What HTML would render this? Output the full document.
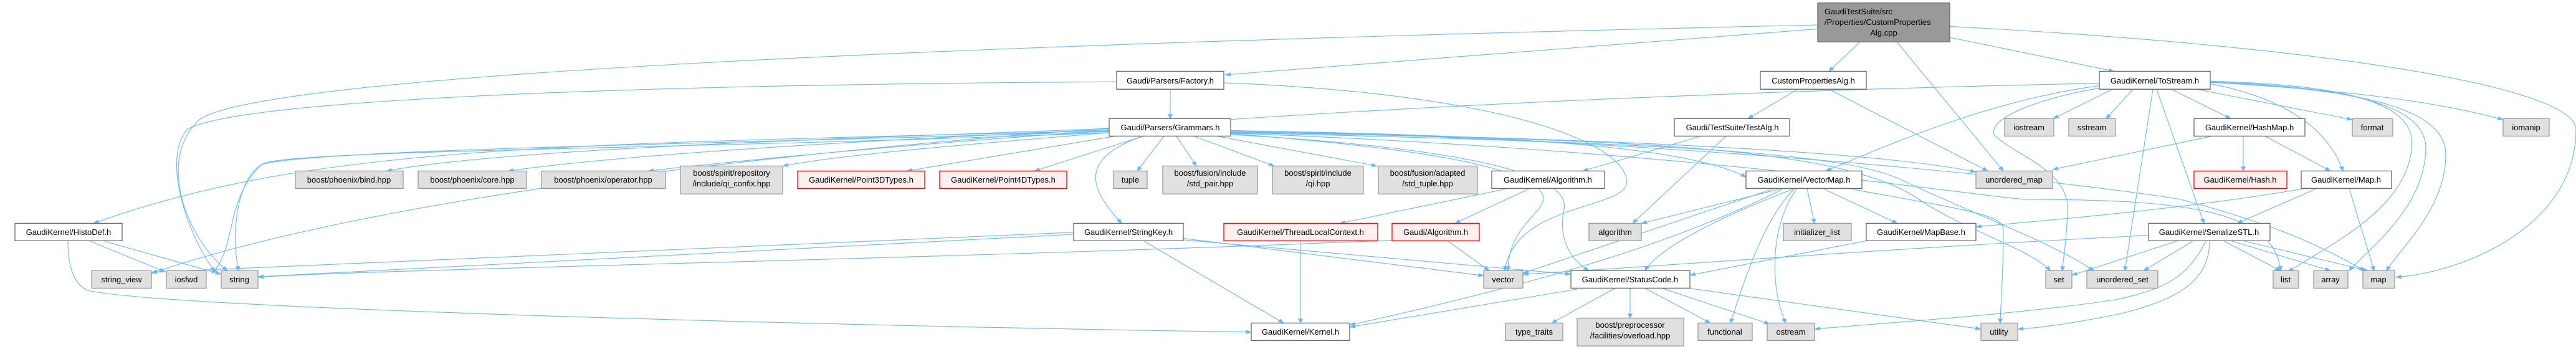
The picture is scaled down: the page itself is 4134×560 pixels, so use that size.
<!DOCTYPE html>
<html><head><meta charset="utf-8"><style>
html,body{margin:0;padding:0;background:#fff;overflow:hidden;}
svg{display:block;}
text{font-family:"Liberation Sans",sans-serif;font-size:13px;fill:#000;}
.w{fill:#fff;stroke:#666;stroke-width:1.3}
.g{fill:#e0e0e0;stroke:#999;stroke-width:1.3}
.r{fill:#fff0f0;stroke:#f00;stroke-width:1.3}
.m{fill:#999;stroke:#666;stroke-width:1.3}
.e{fill:none;stroke:#63b8ff;stroke-width:1.1;marker-end:url(#a)}
rect,path{vector-effect:non-scaling-stroke}
</style></head><body>
<svg width="4134" height="560" viewBox="0 0 4134 560" xmlns="http://www.w3.org/2000/svg">
<defs><marker id="a" viewBox="0 0 10 10" refX="9" refY="5" markerWidth="10" markerHeight="10" markerUnits="userSpaceOnUse" orient="auto"><path d="M0,1 L10,5 L0,9 z" fill="#63b8ff"/></marker></defs>
<g transform="scale(1,0.8)">
<path class="e" d="M2917,50 C1500,90 420,150 320,240 C250,320 300,480 365,543"/>
<path class="e" d="M2917,58 L1966,150"/>
<path class="e" d="M2985,84 L2935,143"/>
<path class="e" d="M3044,84 L3215,343"/>
<path class="e" d="M3129,75 L3393,143"/>
<path class="e" d="M3129,53 C3700,90 4134,170 4134,260 C4134,450 3960,545 3845,556"/>
<path class="e" d="M1878,179 L1878,238"/>
<path class="e" d="M1964,166 C2450,190 2620,300 2610,370 C2600,420 2430,410 2415,543"/>
<path class="e" d="M1792,164 C1000,170 380,200 300,260 C260,320 300,470 345,545"/>
<path class="e" d="M2885,179 L2805,238"/>
<path class="e" d="M2935,179 L3190,343"/>
<path class="e" d="M2730,273 L2540,343"/>
<path class="e" d="M2770,273 L2620,448"/>
<path class="e" d="M2420,378 L2150,448"/>
<path class="e" d="M2455,378 L2335,448"/>
<path class="e" d="M2323,483 L2390,543"/>
<path class="e" d="M2234,482 C1500,520 600,540 414,556"/>
<path class="e" d="M2087,483 L2087,648"/>
<path class="e" d="M1835,483 L2060,648"/>
<path class="e" d="M1899,478 L2381,553"/>
<path class="e" d="M1899,481 L2521,550"/>
<path class="e" d="M1723,470 L414,555"/>
<path class="e" d="M1723,466 L243,546"/>
<path class="e" d="M109,483 C109,540 120,570 140,582 C260,620 1400,655 2008,666"/>
<path class="e" d="M143,483 L265,545"/>
<path class="e" d="M165,483 L355,550"/>
<path class="e" d="M2592,578 L2490,648"/>
<path class="e" d="M2616,578 L2616,638"/>
<path class="e" d="M2640,578 L2745,648"/>
<path class="e" d="M2667,578 L2840,650"/>
<path class="e" d="M2710,578 L3179,660"/>
<path class="e" d="M2531,580 L2166,656"/>
<path class="e" d="M2847,378 L2444,548"/>
<path class="e" d="M2860,378 L2634,448"/>
<path class="e" d="M2880,378 C2750,440 2660,500 2640,543"/>
<path class="e" d="M2900,378 L2912,448"/>
<path class="e" d="M2925,378 L3045,448"/>
<path class="e" d="M2884,378 C2840,450 2840,580 2866,648"/>
<path class="e" d="M2880,378 C2830,440 2800,560 2777,648"/>
<path class="e" d="M2966,378 C3150,420 3215,430 3215,460 C3215,560 3210,620 3210,648"/>
<path class="e" d="M2860,380 C2700,480 2500,560 2166,652"/>
<path class="e" d="M2995,483 L2712,552"/>
<path class="e" d="M3390,179 L3295,238"/>
<path class="e" d="M3423,179 L3380,238"/>
<path class="e" d="M3485,179 L3580,238"/>
<path class="e" d="M3525,179 L3775,240"/>
<path class="e" d="M3546,165 C3750,180 3900,200 4017,240"/>
<path class="e" d="M3547,168 C3680,200 3740,270 3760,343"/>
<path class="e" d="M3461,179 L3537,448"/>
<path class="e" d="M3455,179 L3410,543"/>
<path class="e" d="M3547,163 C3800,170 3880,220 3870,300 C3860,420 3740,490 3672,545"/>
<path class="e" d="M3547,164 C3820,175 3895,230 3893,300 C3890,420 3800,500 3770,543"/>
<path class="e" d="M3547,165 C3850,180 3925,240 3925,310 C3925,420 3850,500 3830,543"/>
<path class="e" d="M3369,172 C3200,200 3050,280 2930,343"/>
<path class="e" d="M3369,177 C3300,190 3190,230 3200,270 C3230,310 3320,340 3318,420 C3316,500 3310,520 3310,543"/>
<path class="e" d="M3369,167 C2500,190 900,270 243,548"/>
<path class="e" d="M3600,273 L3600,343"/>
<path class="e" d="M3635,273 L3740,343"/>
<path class="e" d="M3550,273 L3294,340"/>
<path class="e" d="M3718,378 L3590,448"/>
<path class="e" d="M3770,378 L3810,543"/>
<path class="e" d="M3700,378 C3500,420 3300,440 3171,455"/>
<path class="e" d="M3495,483 L3325,552"/>
<path class="e" d="M3520,483 L3440,543"/>
<path class="e" d="M3568,483 L3660,543"/>
<path class="e" d="M3580,483 L3740,543"/>
<path class="e" d="M3600,483 L3800,543"/>
<path class="e" d="M3540,483 C3510,560 3470,580 3400,600 C3250,630 3000,650 2912,660"/>
<path class="e" d="M3546,483 C3546,560 3500,600 3400,630 C3320,650 3270,658 3238,660"/>
<path class="e" d="M3448,472 C3000,500 2600,540 2444,550"/>
<path class="e" d="M1780,258 C1300,280 800,300 620,343"/>
<path class="e" d="M1780,260 C1400,280 1000,310 815,343"/>
<path class="e" d="M1780,262 C1500,285 1200,320 1040,343"/>
<path class="e" d="M1780,266 C1550,290 1350,310 1256,333"/>
<path class="e" d="M1790,273 L1455,343"/>
<path class="e" d="M1835,273 L1660,343"/>
<path class="e" d="M1868,273 L1825,343"/>
<path class="e" d="M1888,273 L1920,333"/>
<path class="e" d="M1916,273 L2045,333"/>
<path class="e" d="M1953,273 L2210,333"/>
<path class="e" d="M1835,273 C1770,300 1740,340 1770,400 C1780,420 1790,435 1800,448"/>
<path class="e" d="M1780,262 C900,290 500,290 150,448"/>
<path class="e" d="M1780,264 C1100,290 500,300 420,330 C380,360 370,470 383,543"/>
<path class="e" d="M1780,266 C1100,300 450,300 420,330 C360,400 380,500 340,548"/>
<path class="e" d="M1975,262 C2400,270 2700,290 2802,355"/>
<path class="e" d="M1975,264 C2500,275 3000,300 3171,345"/>
<path class="e" d="M1975,265 C2600,280 2950,290 3080,400 C3150,460 3260,500 3290,543"/>
<path class="e" d="M1975,266 C2600,285 2950,300 3050,360 C3150,420 3300,490 3360,543"/>
<path class="e" d="M1975,267 C2700,300 3150,390 3250,400 C3500,400 3650,420 3660,543"/>
<path class="e" d="M1975,262 C2700,280 3300,360 3500,400 C3650,450 3720,490 3795,543"/>
<path class="e" d="M1975,268 C2200,290 2420,320 2470,380 C2500,420 2420,440 2420,543"/>
<path class="e" d="M1975,270 C2400,300 2520,360 2510,420 C2500,480 2520,520 2550,543"/>

<rect class="m" x="2917" y="6" width="212" height="78"/>
<rect class="w" x="1792" y="143" width="172" height="36"/>
<rect class="w" x="2825" y="143" width="170" height="36"/>
<rect class="w" x="3369" y="143" width="178" height="36"/>
<rect class="w" x="1780" y="238" width="195" height="35"/>
<rect class="w" x="2687" y="238" width="185" height="35"/>
<rect class="g" x="3217" y="238" width="79" height="35"/>
<rect class="g" x="3320" y="238" width="75" height="35"/>
<rect class="w" x="3521" y="238" width="178" height="35"/>
<rect class="g" x="3775" y="238" width="65" height="35"/>
<rect class="g" x="4017" y="238" width="74" height="35"/>
<rect class="g" x="474" y="343" width="173" height="35"/>
<rect class="g" x="671" y="343" width="174" height="35"/>
<rect class="g" x="869" y="343" width="199" height="35"/>
<rect class="g" x="1092" y="333" width="164" height="56"/>
<rect class="r" x="1280" y="343" width="204" height="35"/>
<rect class="r" x="1508" y="343" width="204" height="35"/>
<rect class="g" x="1787" y="343" width="54" height="35"/>
<rect class="g" x="1866" y="333" width="152" height="56"/>
<rect class="g" x="2042" y="333" width="146" height="56"/>
<rect class="g" x="2212" y="333" width="159" height="56"/>
<rect class="w" x="2394" y="343" width="181" height="35"/>
<rect class="w" x="2802" y="343" width="186" height="35"/>
<rect class="g" x="3171" y="343" width="123" height="35"/>
<rect class="r" x="3521" y="343" width="149" height="35"/>
<rect class="w" x="3693" y="343" width="145" height="35"/>
<rect class="w" x="24" y="448" width="172" height="35"/>
<rect class="w" x="1723" y="448" width="176" height="35"/>
<rect class="r" x="1964" y="448" width="247" height="35"/>
<rect class="r" x="2234" y="448" width="140" height="35"/>
<rect class="g" x="2550" y="448" width="84" height="35"/>
<rect class="g" x="2862" y="448" width="109" height="35"/>
<rect class="w" x="2995" y="448" width="176" height="35"/>
<rect class="w" x="3448" y="448" width="195" height="35"/>
<rect class="g" x="147" y="543" width="96" height="35"/>
<rect class="g" x="267" y="543" width="64" height="35"/>
<rect class="g" x="355" y="543" width="59" height="35"/>
<rect class="g" x="2381" y="543" width="63" height="35"/>
<rect class="w" x="2521" y="543" width="191" height="35"/>
<rect class="g" x="3283" y="543" width="42" height="35"/>
<rect class="g" x="3349" y="543" width="114" height="35"/>
<rect class="g" x="3648" y="543" width="41" height="35"/>
<rect class="g" x="3713" y="543" width="55" height="35"/>
<rect class="g" x="3792" y="543" width="51" height="35"/>
<rect class="w" x="2008" y="648" width="158" height="35"/>
<rect class="g" x="2416" y="648" width="92" height="35"/>
<rect class="g" x="2531" y="638" width="171" height="56"/>
<rect class="g" x="2725" y="648" width="87" height="35"/>
<rect class="g" x="2836" y="648" width="76" height="35"/>
<rect class="g" x="3179" y="648" width="59" height="35"/>
</g>
<text x="2928" y="23">GaudiTestSuite/src</text>
<text x="2928" y="40">/Properties/CustomProperties</text>
<g text-anchor="middle">
<text x="3023" y="57">Alg.cpp</text>
<text x="1878" y="134">Gaudi/Parsers/Factory.h</text>
<text x="2910" y="134">CustomPropertiesAlg.h</text>
<text x="3458" y="134">GaudiKernel/ToStream.h</text>
<text x="1878" y="209">Gaudi/Parsers/Grammars.h</text>
<text x="2780" y="209">Gaudi/TestSuite/TestAlg.h</text>
<text x="3256" y="209">iostream</text>
<text x="3357" y="209">sstream</text>
<text x="3610" y="209">GaudiKernel/HashMap.h</text>
<text x="3807" y="209">format</text>
<text x="4054" y="209">iomanip</text>
<text x="560" y="293">boost/phoenix/bind.hpp</text>
<text x="758" y="293">boost/phoenix/core.hpp</text>
<text x="968" y="293">boost/phoenix/operator.hpp</text>
<text x="1174" y="282">boost/spirit/repository</text><text x="1174" y="299">/include/qi_confix.hpp</text>
<text x="1382" y="293">GaudiKernel/Point3DTypes.h</text>
<text x="1610" y="293">GaudiKernel/Point4DTypes.h</text>
<text x="1814" y="293">tuple</text>
<text x="1942" y="282">boost/fusion/include</text><text x="1942" y="299">/std_pair.hpp</text>
<text x="2115" y="282">boost/spirit/include</text><text x="2115" y="299">/qi.hpp</text>
<text x="2291" y="282">boost/fusion/adapted</text><text x="2291" y="299">/std_tuple.hpp</text>
<text x="2484" y="293">GaudiKernel/Algorithm.h</text>
<text x="2895" y="293">GaudiKernel/VectorMap.h</text>
<text x="3232" y="293">unordered_map</text>
<text x="3595" y="293">GaudiKernel/Hash.h</text>
<text x="3765" y="293">GaudiKernel/Map.h</text>
<text x="110" y="377">GaudiKernel/HistoDef.h</text>
<text x="1811" y="377">GaudiKernel/StringKey.h</text>
<text x="2087" y="377">GaudiKernel/ThreadLocalContext.h</text>
<text x="2304" y="377">Gaudi/Algorithm.h</text>
<text x="2592" y="377">algorithm</text>
<text x="2916" y="377">initializer_list</text>
<text x="3083" y="377">GaudiKernel/MapBase.h</text>
<text x="3545" y="377">GaudiKernel/SerializeSTL.h</text>
<text x="195" y="453">string_view</text>
<text x="299" y="453">iosfwd</text>
<text x="384" y="453">string</text>
<text x="2412" y="453">vector</text>
<text x="2616" y="453">GaudiKernel/StatusCode.h</text>
<text x="3304" y="453">set</text>
<text x="3406" y="453">unordered_set</text>
<text x="3668" y="453">list</text>
<text x="3740" y="453">array</text>
<text x="3817" y="453">map</text>
<text x="2087" y="537">GaudiKernel/Kernel.h</text>
<text x="2462" y="537">type_traits</text>
<text x="2616" y="526">boost/preprocessor</text><text x="2616" y="543">/facilities/overload.hpp</text>
<text x="2768" y="537">functional</text>
<text x="2874" y="537">ostream</text>
<text x="3208" y="537">utility</text>
</g>
</svg>
</body></html>
